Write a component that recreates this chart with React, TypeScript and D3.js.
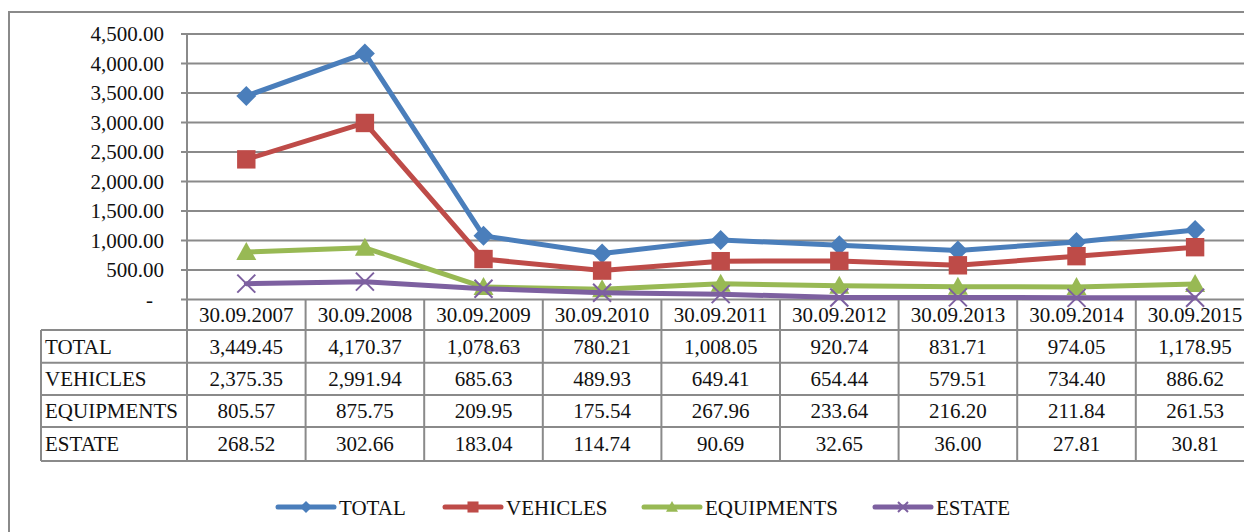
import React from 'react';
import * as d3 from 'd3';

const categories = ['30.09.2007', '30.09.2008', '30.09.2009', '30.09.2010', '30.09.2011', '30.09.2012', '30.09.2013', '30.09.2014', '30.09.2015'];
const total = [3449.45, 4170.37, 1078.63, 780.21, 1008.05, 920.74, 831.71, 974.05, 1178.95];
const vehicles = [2375.35, 2991.94, 685.63, 489.93, 649.41, 654.44, 579.51, 734.4, 886.62];
const equipments = [805.57, 875.75, 209.95, 175.54, 267.96, 233.64, 216.2, 211.84, 261.53];
const estate = [268.52, 302.66, 183.04, 114.74, 90.69, 32.65, 36.0, 27.81, 30.81];
const yTicks = [0, 500, 1000, 1500, 2000, 2500, 3000, 3500, 4000, 4500];

const series = [
  { name: 'TOTAL', values: total, color: '#4a7ebb', marker: 'diamond', legendX: 278 },
  { name: 'VEHICLES', values: vehicles, color: '#be4b48', marker: 'square', legendX: 445 },
  { name: 'EQUIPMENTS', values: equipments, color: '#98b954', marker: 'triangle', legendX: 644 },
  { name: 'ESTATE', values: estate, color: '#7d60a0', marker: 'x', legendX: 875 },
];

const W = 1244;
const H = 532;
const font = '"Liberation Serif", "Times New Roman", serif';
const grid = '#8a8a8a';

const fmt = d3.format(',.2f');

function Marker({ type, x, y, color, s }: { type: string; x: number; y: number; color: string; s: number }) {
  if (type === 'diamond') {
    return <path d={`M${x},${y - s}L${x + s},${y}L${x},${y + s}L${x - s},${y}Z`} fill={color} />;
  }
  if (type === 'square') {
    return <rect x={x - s * 0.92} y={y - s * 0.92} width={s * 1.84} height={s * 1.84} fill={color} />;
  }
  if (type === 'triangle') {
    return <path d={`M${x},${y - s}L${x + s},${y + s * 0.8}L${x - s},${y + s * 0.8}Z`} fill={color} />;
  }
  return (
    <path
      d={`M${x - s},${y - s}L${x + s},${y + s}M${x - s},${y + s}L${x + s},${y - s}`}
      stroke={color}
      strokeWidth={2}
      fill="none"
    />
  );
}

export default function App() {
  const x = d3.scaleBand<string>().domain(categories).range([187, 187 + 118.6 * 9]);
  const y = d3.scaleLinear().domain([0, 4500]).range([299.5, 34]);

  const line = d3
    .line<number>()
    .x((_, i) => (x(categories[i]) as number) + x.bandwidth() / 2)
    .y(d => y(d));

  const headerTop = y(0);
  const rowLines = [330, 362.7, 395, 427, 461];
  const tableLeft = 41;
  const tableRight = 1300;

  return (
    <svg
      width={W}
      height={H}
      style={{ position: 'absolute', left: 0, top: 0, background: '#fff' }}
      fontFamily={font}
    >
      <rect x={9} y={12} width={1400} height={700} fill="#fff" stroke={grid} strokeWidth={2} />

      {/* gridlines + y labels */}
      {yTicks.map(t => (
        <g key={t}>
          <line x1={181} x2={tableRight} y1={y(t)} y2={y(t)} stroke={grid} strokeWidth={2} />
          <text
            x={t === 0 ? 153 : 164}
            y={y(t)}
            dy="0.35em"
            textAnchor="end"
            fontSize={21}
            fill="#111"
          >
            {t === 0 ? '-' : fmt(t)}
          </text>
        </g>
      ))}
      <line x1={187} x2={187} y1={y(4500)} y2={rowLines[rowLines.length - 1]} stroke={grid} strokeWidth={2} />

      {/* data table */}
      {rowLines.map(r => (
        <line key={r} x1={tableLeft} x2={tableRight} y1={r} y2={r} stroke={grid} strokeWidth={2} />
      ))}
      <line x1={tableLeft} x2={tableLeft} y1={rowLines[0]} y2={rowLines[rowLines.length - 1]} stroke={grid} strokeWidth={2} />
      {categories.map(c => (
        <line
          key={c}
          x1={(x(c) as number) + x.bandwidth()}
          x2={(x(c) as number) + x.bandwidth()}
          y1={headerTop}
          y2={rowLines[rowLines.length - 1]}
          stroke={grid}
          strokeWidth={2}
        />
      ))}
      {categories.map(c => (
        <text
          key={c}
          x={(x(c) as number) + x.bandwidth() / 2}
          y={(headerTop + rowLines[0]) / 2}
          dy="0.35em"
          textAnchor="middle"
          fontSize={21}
          fill="#111"
        >
          {c}
        </text>
      ))}
      {series.map((s, si) => (
        <g key={s.name}>
          <text x={45} y={(rowLines[si] + rowLines[si + 1]) / 2} dy="0.35em" fontSize={21} fill="#111">
            {s.name}
          </text>
          {s.values.map((v, i) => (
            <text
              key={i}
              x={(x(categories[i]) as number) + x.bandwidth() / 2}
              y={(rowLines[si] + rowLines[si + 1]) / 2}
              dy="0.35em"
              textAnchor="middle"
              fontSize={21}
              fill="#111"
            >
              {fmt(v)}
            </text>
          ))}
        </g>
      ))}

      {/* series */}
      {series.map(s => (
        <g key={s.name}>
          <path d={line(s.values) ?? ''} fill="none" stroke={s.color} strokeWidth={5} strokeLinejoin="round" strokeLinecap="round" />
          {s.values.map((v, i) => (
            <Marker
              key={i}
              type={s.marker}
              x={(x(categories[i]) as number) + x.bandwidth() / 2}
              y={y(v)}
              color={s.color}
              s={s.marker === 'x' ? 9 : 10}
            />
          ))}
        </g>
      ))}

      {/* legend */}
      {series.map(s => (
        <g key={s.name}>
          <line x1={s.legendX} x2={s.legendX + 56} y1={507} y2={507} stroke={s.color} strokeWidth={5} strokeLinecap="round" />
          <Marker type={s.marker} x={s.legendX + 28} y={507} color={s.color} s={s.marker === 'x' ? 5 : 6} />
          <text x={s.legendX + 61} y={515} fontSize={21} fill="#111">
            {s.name}
          </text>
        </g>
      ))}
    </svg>
  );
}
